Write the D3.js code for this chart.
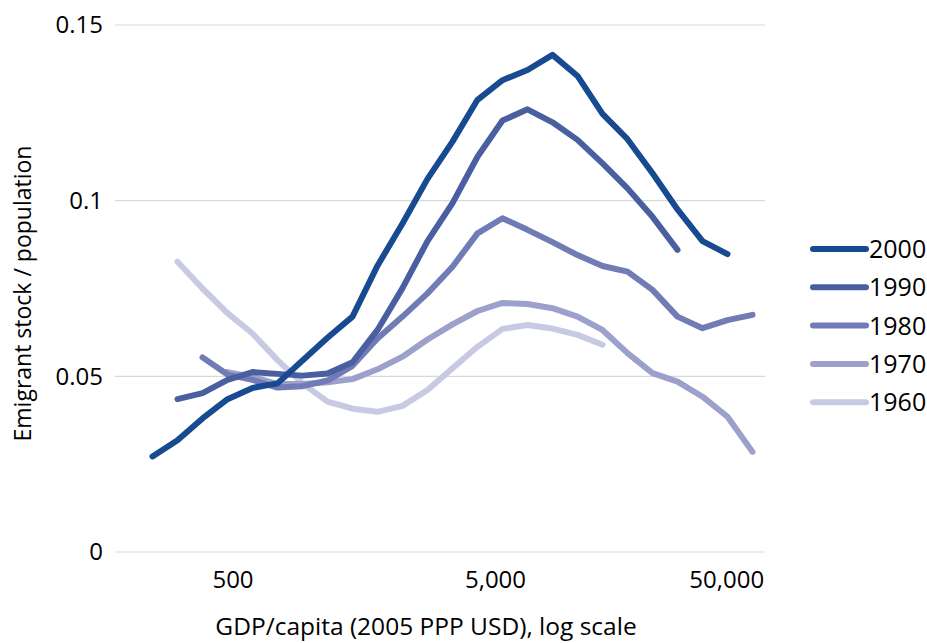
<!DOCTYPE html>
<html>
<head>
<meta charset="utf-8">
<script src="https://cdn.jsdelivr.net/npm/d3@7"></script>
<style>
  html, body { margin: 0; padding: 0; background: #fff; }
  svg { display: block; }
  text { font-family: "Open Sans", "Noto Sans", sans-serif; fill: #000; }
</style>
</head>
<body>
<svg id="chart" width="927" height="643"></svg>
<script>
// Category index (equal log-GDP bins) 0..25
const categories = d3.range(26);

const series2000 = [null, 0.0272, 0.0318, 0.0380, 0.0435, 0.0467, 0.0480, 0.0545, 0.0610, 0.0670, 0.0815, 0.0935, 0.1062, 0.1168, 0.1287, 0.1343, 0.1372, 0.1415, 0.1355, 0.1247, 0.1175, 0.1078, 0.0975, 0.0885, 0.0848, null];
const series1990 = [null, null, 0.0435, 0.0452, 0.0490, 0.0512, 0.0507, 0.0502, 0.0508, 0.0540, 0.0632, 0.0751, 0.0885, 0.0993, 0.1125, 0.1228, 0.1260, 0.1223, 0.1173, 0.1106, 0.1035, 0.0954, 0.0860, null, null, null];
const series1980 = [null, null, null, 0.0554, 0.0505, 0.0490, 0.0468, 0.0472, 0.0488, 0.0530, 0.0608, 0.0670, 0.0736, 0.0812, 0.0907, 0.0950, 0.0917, 0.0882, 0.0845, 0.0814, 0.0798, 0.0746, 0.0670, 0.0637, 0.0660, 0.0675];
const series1970 = [null, null, null, null, 0.0512, 0.0498, 0.0478, 0.0478, 0.0483, 0.0492, 0.0520, 0.0556, 0.0605, 0.0648, 0.0686, 0.0709, 0.0706, 0.0694, 0.0670, 0.0632, 0.0566, 0.0509, 0.0485, 0.0442, 0.0385, 0.0285];
const series1960 = [null, null, 0.0826, 0.0750, 0.0680, 0.0622, 0.0546, 0.0480, 0.0428, 0.0408, 0.0399, 0.0416, 0.0461, 0.0523, 0.0584, 0.0635, 0.0646, 0.0636, 0.0618, 0.0590, null, null, null, null, null, null];

const seriesNames = ["2000", "1990", "1980", "1970", "1960"];
const seriesColors = ["#174a91", "#4a5fa0", "#717bb6", "#9ca1cb", "#c8cae3"];
const seriesValues = [series2000, series1990, series1980, series1970, series1960];

const yTicks = [0, 0.05, 0.1, 0.15];
const yTickLabels = ["0", "0.05", "0.1", "0.15"];
// x tick labels and their position on the category axis
const xTickLabels = ["500", "5,000", "50,000"];
const xTickAt = [4.2, 14.7, 23.95];

const xTitle = "GDP/capita (2005 PPP USD), log scale";
const yTitle = "Emigrant stock / population";

const svg = d3.select("#chart");
const margin = { left: 115, right: 162, top: 25, bottom: 91 };
const W = 927, H = 643;

const x = d3.scaleLinear().domain([-0.5, 25.5]).range([margin.left, W - margin.right]);
const y = d3.scaleLinear().domain([0, 0.15]).range([H - margin.bottom, margin.top]);

// gridlines
svg.append("g").selectAll("line").data(yTicks).join("line")
  .attr("x1", x(-0.5)).attr("x2", x(25.5))
  .attr("y1", d => y(d)).attr("y2", d => y(d))
  .attr("stroke", "#d9d9d9").attr("stroke-width", 1.2);

// y axis labels
const yAxis = d3.axisLeft(y).tickValues(yTicks).tickFormat((d, i) => yTickLabels[i]).tickSize(0).tickPadding(12);
const gy = svg.append("g").attr("transform", `translate(${x(-0.5)},0)`).call(yAxis);
gy.select(".domain").remove();
gy.selectAll("text").style("font-size", "24px").style("font-family", "'Open Sans', sans-serif").attr("fill", "#000");

// x axis labels
const xAxis = d3.axisBottom(x).tickValues(xTickAt).tickFormat((d, i) => xTickLabels[i]).tickSize(0).tickPadding(19);
const gx = svg.append("g").attr("transform", `translate(0,${y(0)})`).call(xAxis);
gx.select(".domain").remove();
gx.selectAll("text").style("font-size", "24px").style("font-family", "'Open Sans', sans-serif").attr("fill", "#000");

// lines (1960 at bottom, 2000 on top)
const line = d3.line()
  .defined(d => d != null)
  .x((d, i) => x(categories[i]))
  .y(d => y(d));

const order = [4, 3, 2, 1, 0];
svg.append("g").selectAll("path").data(order).join("path")
  .attr("d", k => line(seriesValues[k]))
  .attr("fill", "none")
  .attr("stroke", k => seriesColors[k])
  .attr("stroke-width", 6)
  .attr("stroke-linecap", "round")
  .attr("stroke-linejoin", "round");

// legend
const legend = svg.append("g").attr("transform", "translate(813,249)");
const li = legend.selectAll("g").data(seriesNames).join("g")
  .attr("transform", (d, i) => `translate(0,${i * 38.3})`);
li.append("line").attr("x1", 0).attr("x2", 53).attr("y1", 0).attr("y2", 0)
  .attr("stroke", (d, i) => seriesColors[i]).attr("stroke-width", 6).attr("stroke-linecap", "round");
li.append("text").attr("x", 56).attr("y", 0).attr("dy", "0.36em")
  .style("font-size", "25px").text(d => d);

// axis titles
svg.append("text").attr("x", 426).attr("y", 635)
  .attr("text-anchor", "middle").style("font-size", "24.5px").text(xTitle);
svg.append("text").attr("transform", `translate(31,${(y(0) + y(0.15)) / 2 + 5}) rotate(-90)`)
  .attr("text-anchor", "middle").style("font-size", "23px").text(yTitle);
</script>
</body>
</html>
